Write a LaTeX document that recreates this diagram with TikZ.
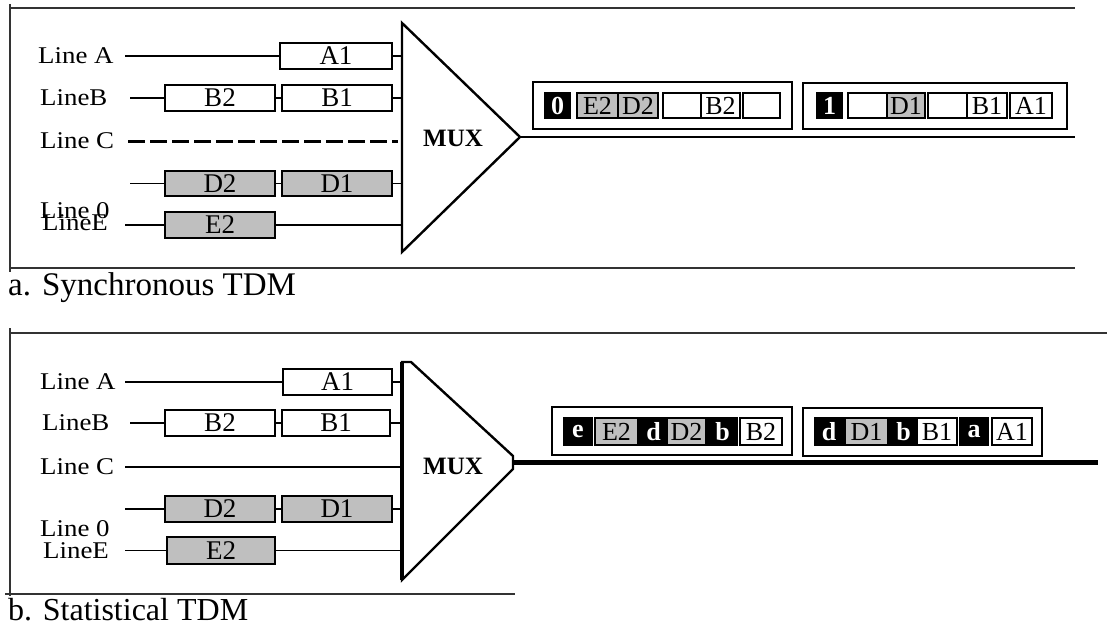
\documentclass[tikz,border=0pt]{standalone}
\usepackage{fontspec}
\setmainfont{Liberation Serif}
\usepackage{graphicx}
\newcommand{\hs}[1]{\scalebox{1.12}[1]{#1}}
\begin{document}
\begin{tikzpicture}[x=1pt,y=-1pt,
  lbl/.style={anchor=west, inner sep=0pt, font=\fontsize{24}{24}\selectfont},
  capt/.style={anchor=west, inner sep=0pt, font=\fontsize{33}{33}\selectfont},
  wbox/.style={draw, line width=1.4pt, fill=white, minimum height=26pt, inner sep=0pt, font=\fontsize{27}{27}\selectfont},
  gbox/.style={wbox, fill=gray!50},
  fbox/.style={draw, line width=1.3pt, fill=white, inner sep=0pt, font=\fontsize{26}{26}\selectfont},
  fgray/.style={fbox, fill=gray!50},
  fblack/.style={fbox, fill=black, text=white, font=\fontsize{26}{26}\selectfont\bfseries},
  frm/.style={draw, line width=1.4pt, inner sep=0pt},
  wire/.style={line width=1.4pt},
  rule/.style={line width=1.2pt, draw=black!80},
  mux/.style={draw, line width=2.4pt, line join=miter},
  muxtxt/.style={inner sep=0pt, font=\fontsize{25}{25}\selectfont\bfseries},
]
\useasboundingbox (0,0) rectangle (1107,626);

% ================= Panel a =================
\draw[rule] (10,8) -- (1075,8);
\draw[rule] (10,268) -- (1075,268);
\draw[rule] (10,4) -- (10,272);

\node[lbl] (laA) at (38,56) {\hs{Line A}};
\node[lbl] (laB) at (40,98) {\hs{LineB}};
\node[lbl] (laC) at (40,141) {\hs{Line C}};
\node[lbl] (la0) at (40,211) {\hs{Line 0}};
\node[lbl] (laE) at (42,223) {\hs{LineE}};

\node[wbox, minimum width=112pt] (aA1) at (336,56) {A1};
\node[wbox, minimum width=110pt] (aB2) at (220,98) {B2};
\node[wbox, minimum width=110pt] (aB1) at (337,98) {B1};
\node[gbox, minimum width=110pt, minimum height=25pt] (aD2) at (220,183.5) {D2};
\node[gbox, minimum width=110pt, minimum height=25pt] (aD1) at (337,183.5) {D1};
\node[gbox, minimum width=110pt] (aE2) at (220,225) {E2};

\coordinate (saA) at (125,56);  \coordinate (maA) at (402,56);
\coordinate (saB) at (130,98);  \coordinate (maB) at (402,98);
\coordinate (saC) at (128,141); \coordinate (maC) at (398,141);
\coordinate (saD) at (130,183.5); \coordinate (maD) at (402,183.5);
\coordinate (saE) at (125,225); \coordinate (maE) at (402,225);

\draw[wire] (saA) -- (aA1.west);
\draw[wire] (aA1.east) -- (maA);
\draw[wire] (saB) -- (aB2.west);
\draw[wire] (aB2.east) -- (aB1.west);
\draw[wire] (aB1.east) -- (maB);
\draw[line width=3pt, dash pattern=on 17pt off 5pt] (saC) -- (maC);
\draw[wire] (saD) -- (aD2.west);
\draw[wire] (aD2.east) -- (aD1.west);
\draw[wire] (aD1.east) -- (maD);
\draw[wire] (saE) -- (aE2.west);
\draw[wire] (aE2.east) -- (maE);

\coordinate (muxaT) at (402,23);
\coordinate (muxaP) at (520,137);
\coordinate (muxaB) at (402,252);
\draw[mux] (muxaT) -- (muxaP) -- (muxaB) -- cycle;
\node[muxtxt] (muxa) at (453,138) {MUX};
\coordinate (outA) at (1075,137);
\draw[wire] (muxaP) -- (outA);

% frames panel a
\node[frm, minimum width=259pt, minimum height=47pt] (fa1) at (662.5,105.5) {};
\node[frm, minimum width=264pt, minimum height=46pt] (fa2) at (935,106) {};

\node[fblack, minimum width=25pt, minimum height=25pt] (fa1z) at (557.5,105.5) {0};
\node[fgray, minimum width=41pt, minimum height=25pt] (fa1e) at (597.5,105.5) {E2};
\node[fgray, minimum width=40pt, minimum height=25pt] (fa1d) at (638,105.5) {D2};
\node[fbox, minimum width=38pt, minimum height=25pt] (fa1x) at (682,105.5) {};
\node[fbox, minimum width=39pt, minimum height=25pt] (fa1b) at (720.5,105.5) {B2};
\node[fbox, minimum width=37pt, minimum height=25pt] (fa1y) at (761.5,105.5) {};

\node[fblack, minimum width=25pt, minimum height=25pt] (fa2o) at (829.5,105.5) {1};
\node[fbox, minimum width=39pt, minimum height=25pt] (fa2x) at (867.5,105.5) {};
\node[fgray, minimum width=38pt, minimum height=25pt] (fa2d) at (906,105.5) {D1};
\node[fbox, minimum width=39pt, minimum height=25pt] (fa2y) at (947.5,105.5) {};
\node[fbox, minimum width=40pt, minimum height=25pt] (fa2b) at (987,105.5) {B1};
\node[fbox, minimum width=42pt, minimum height=25pt] (fa2a) at (1031,105.5) {A1};

\node[capt] (capa) at (8,288) {a. Synchronous TDM};

% ================= Panel b =================
\draw[rule] (10,333) -- (1107,333);
\draw[rule] (10,328) -- (10,596);
\draw[rule] (5,594) -- (515,594);

\node[lbl] (lbA) at (40,382) {\hs{Line A}};
\node[lbl] (lbB) at (42,423) {\hs{LineB}};
\node[lbl] (lbC) at (40,467) {\hs{Line C}};
\node[lbl] (lb0) at (40,529) {\hs{Line 0}};
\node[lbl] (lbE) at (43,551) {\hs{LineE}};

\node[wbox, minimum width=109pt] (bA1) at (337.5,382) {A1};
\node[wbox, minimum width=110pt] (bB2) at (220,423) {B2};
\node[wbox, minimum width=108pt] (bB1) at (336,423) {B1};
\node[gbox, minimum width=110pt] (bD2) at (220,509) {D2};
\node[gbox, minimum width=110pt] (bD1) at (337,509) {D1};
\node[gbox, minimum width=108pt, minimum height=27pt] (bE2) at (221,550.5) {E2};

\coordinate (sbA) at (125,382);  \coordinate (mbA) at (402,382);
\coordinate (sbB) at (130,423);  \coordinate (mbB) at (402,423);
\coordinate (sbC) at (125,467);  \coordinate (mbC) at (402,467);
\coordinate (sbD) at (125,509);  \coordinate (mbD) at (402,509);
\coordinate (sbE) at (125,550.5); \coordinate (mbE) at (402,550.5);

\draw[wire] (sbA) -- (bA1.west);
\draw[wire] (bA1.east) -- (mbA);
\draw[wire] (sbB) -- (bB2.west);
\draw[wire] (bB2.east) -- (bB1.west);
\draw[wire] (bB1.east) -- (mbB);
\draw[wire] (sbC) -- (mbC);
\draw[wire] (sbD) -- (bD2.west);
\draw[wire] (bD2.east) -- (bD1.west);
\draw[wire] (bD1.east) -- (mbD);
\draw[line width=1pt] (sbE) -- (bE2.west);
\draw[wire] (bE2.east) -- (mbE);

\coordinate (muxbT) at (402,362);
\coordinate (muxbT2) at (411,362);
\coordinate (muxbP1) at (513,456);
\coordinate (muxbP2) at (513,469);
\coordinate (muxbB) at (402,580);
\draw[mux] (muxbT) -- (muxbT2) -- (muxbP1) -- (muxbP2) -- (muxbB) -- cycle;
\draw[line width=4pt] (muxbT) -- (muxbB);
\node[muxtxt] (muxb) at (453,466) {MUX};
\coordinate (apexB) at (513,462);
\coordinate (outB) at (1098,462);
\draw[line width=5pt] (apexB) -- (outB);

% frames panel b
\node[frm, minimum width=240pt, minimum height=48pt] (fb1) at (672,431) {};
\node[frm, minimum width=239pt, minimum height=48pt] (fb2) at (922.5,432) {};

\node[fblack, minimum width=28pt, minimum height=27pt] (fb1e) at (578,431.5) {e};
\node[fgray, minimum width=43pt, minimum height=27pt] (fb1E) at (616.5,431.5) {E2};
\node[fblack, minimum width=27pt, minimum height=27pt] (fb1d) at (653.5,431.5) {d};
\node[fgray, minimum width=39pt, minimum height=27pt] (fb1D) at (686.5,431.5) {D2};
\node[fblack, minimum width=29pt, minimum height=27pt] (fb1b) at (722.5,431.5) {b};
\node[fbox, minimum width=42pt, minimum height=27pt] (fb1B) at (761,431.5) {B2};

\node[fblack, minimum width=28pt, minimum height=27pt] (fb2d) at (829,431.5) {d};
\node[fgray, minimum width=43pt, minimum height=27pt] (fb2D) at (866.5,431.5) {D1};
\node[fblack, minimum width=27pt, minimum height=27pt] (fb2b) at (903.5,431.5) {b};
\node[fbox, minimum width=40pt, minimum height=27pt] (fb2B) at (937,431.5) {B1};
\node[fblack, minimum width=28pt, minimum height=27pt] (fb2a) at (974,431.5) {a};
\node[fbox, minimum width=40pt, minimum height=27pt] (fb2A) at (1012,431.5) {A1};

\node[capt, font=\fontsize{32}{32}\selectfont] (capb) at (8,610) {b. Statistical TDM};
\end{tikzpicture}
\end{document}
